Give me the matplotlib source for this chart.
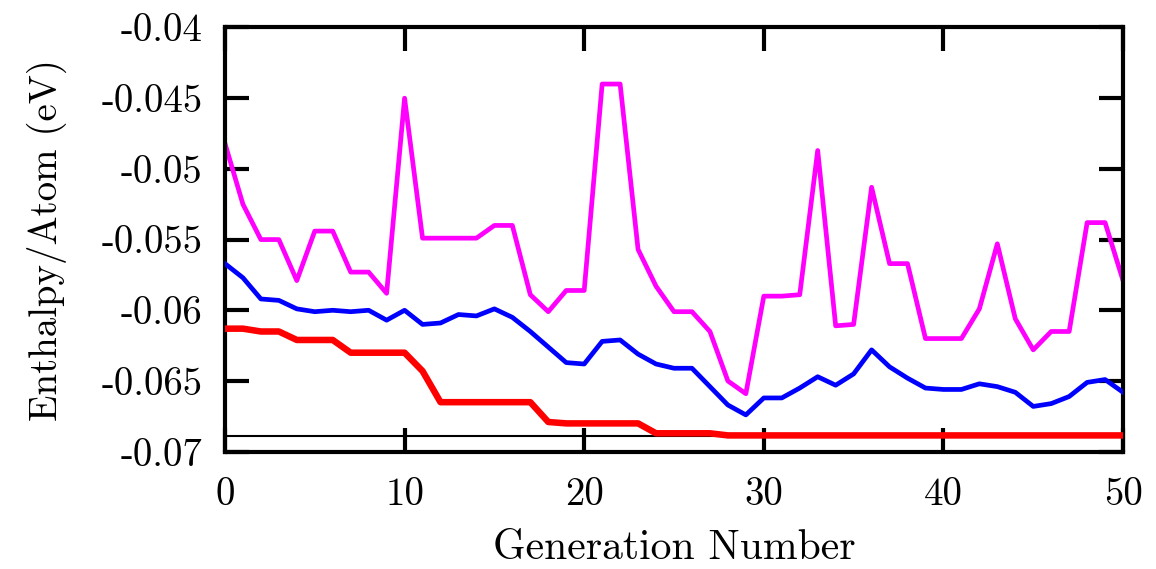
import matplotlib
matplotlib.use('Agg')
import matplotlib.pyplot as plt
import numpy as np

plt.rcParams['font.family'] = ['cmr10', 'DejaVu Serif']
plt.rcParams['axes.unicode_minus'] = False

generation = np.arange(51)

# worst structure in population (magenta)
worst = [-0.0482, -0.0525, -0.0550, -0.0550, -0.0579, -0.0544, -0.0544, -0.0573, -0.0573, -0.0588,
         -0.0450, -0.0549, -0.0549, -0.0549, -0.0549, -0.0540, -0.0540, -0.0589, -0.0601, -0.0586,
         -0.0586, -0.0440, -0.0440, -0.0557, -0.0583, -0.0601, -0.0601, -0.0615, -0.0650, -0.0659,
         -0.0590, -0.0590, -0.0589, -0.0487, -0.0611, -0.0610, -0.0513, -0.0567, -0.0567, -0.0620,
         -0.0620, -0.0620, -0.0599, -0.0553, -0.0606, -0.0628, -0.0615, -0.0615, -0.0538, -0.0538,
         -0.0579]

# population average (blue)
average = [-0.0567, -0.0577, -0.0592, -0.0593, -0.0599, -0.0601, -0.0600, -0.0601, -0.0600, -0.0607,
           -0.0600, -0.0610, -0.0609, -0.0603, -0.0604, -0.0599, -0.0605, -0.0615, -0.0626, -0.0637,
           -0.0638, -0.0622, -0.0621, -0.0631, -0.0638, -0.0641, -0.0641, -0.0654, -0.0667, -0.0674,
           -0.0662, -0.0662, -0.0655, -0.0647, -0.0653, -0.0645, -0.0628, -0.0640, -0.0648, -0.0655,
           -0.0656, -0.0656, -0.0652, -0.0654, -0.0658, -0.0668, -0.0666, -0.0661, -0.0651, -0.0649,
           -0.0658]

# best structure so far (red)
best = [-0.0613, -0.0613, -0.0615, -0.0615, -0.0621, -0.0621, -0.0621, -0.0630, -0.0630, -0.0630,
        -0.0630, -0.0643, -0.0665, -0.0665, -0.0665, -0.0665, -0.0665, -0.0665, -0.0679, -0.0680,
        -0.0680, -0.0680, -0.0680, -0.0680, -0.0687, -0.0687, -0.0687, -0.0687, -0.06885, -0.06885,
        -0.06885, -0.06885, -0.06885, -0.06885, -0.06885, -0.06885, -0.06885, -0.06885, -0.06885, -0.06885,
        -0.06885, -0.06885, -0.06885, -0.06885, -0.06885, -0.06885, -0.06885, -0.06885, -0.06885, -0.06885,
        -0.06885]

ground_state = -0.06888

xticks = [0, 10, 20, 30, 40, 50]
yticks = [-0.07, -0.065, -0.06, -0.055, -0.05, -0.045, -0.04]
ytick_labels = ['-0.07', '-0.065', '-0.06', '-0.055', '-0.05', '-0.045', '-0.04']

fig = plt.figure(figsize=(11.56, 5.69), dpi=100)
ax = fig.add_axes([0.1946, 0.2062, 0.7769, 0.7455])

ax.axhline(ground_state, color='black', lw=1.5, zorder=1)
ax.plot(generation, worst, color='#ff00ff', lw=3.4, zorder=2)
ax.plot(generation, average, color='#0000ff', lw=3.4, zorder=3)
ax.plot(generation, best, color='#ff0000', lw=4.7, zorder=4)

ax.set_xlim(0, 50)
ax.set_ylim(-0.07, -0.04)
ax.set_xticks(xticks)
ax.set_xticklabels([str(t) for t in xticks])
ax.set_yticks(yticks)
ax.set_yticklabels(ytick_labels)

ax.tick_params(direction='in', length=17, width=3, top=True, right=True,
               labelsize=28, pad=16)
ax.tick_params(axis='x', pad=18)
for s in ax.spines.values():
    s.set_linewidth(3)

ax.set_xlabel('Generation Number', fontsize=30, labelpad=12)
ax.set_ylabel('Enthalpy/Atom (eV)', fontsize=28, labelpad=25)

fig.savefig('out.png', dpi=100)
